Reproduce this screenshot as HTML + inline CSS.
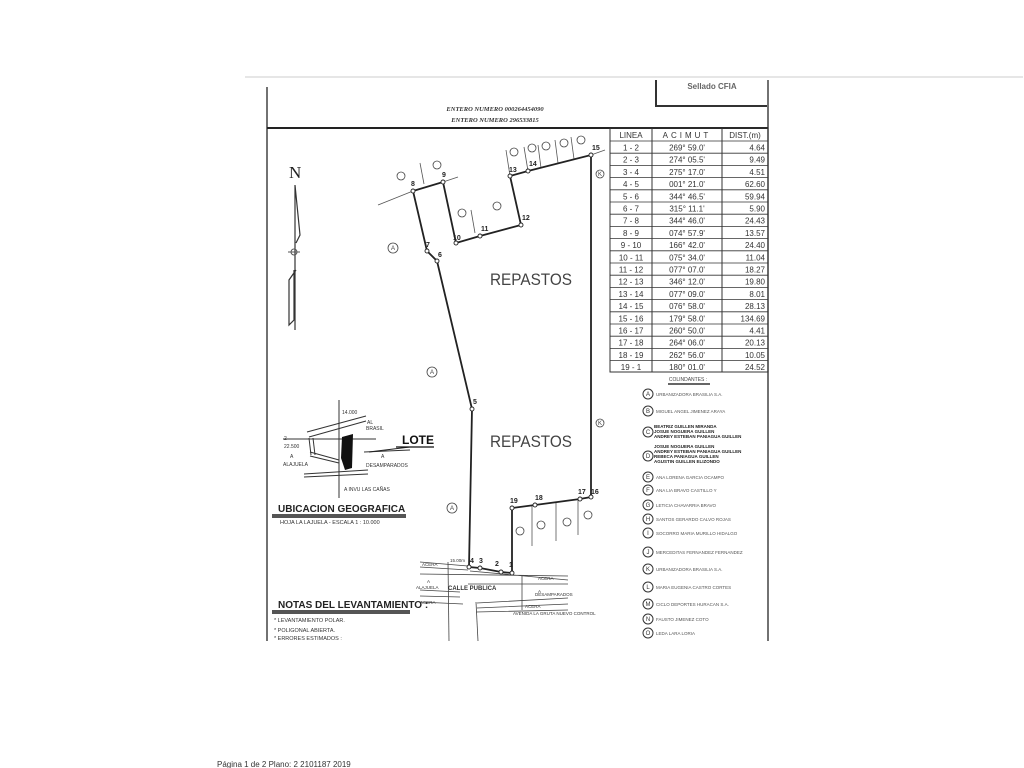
<!DOCTYPE html>
<html><head><meta charset="utf-8"><style>
html,body{margin:0;padding:0;background:#fff;width:1024px;height:768px;overflow:hidden}
svg{display:block;font-family:"Liberation Sans",sans-serif}
</style></head><body>
<svg width="1024" height="768" viewBox="0 0 1024 768" xmlns="http://www.w3.org/2000/svg">
<line x1="245" y1="77" x2="1023" y2="77" stroke="#ccc" stroke-width="1"/>
<line x1="267" y1="87" x2="267" y2="641" stroke="#444" stroke-width="1.5"/>
<line x1="768" y1="80" x2="768" y2="641" stroke="#444" stroke-width="1.5"/>
<line x1="267" y1="128" x2="768" y2="128" stroke="#222" stroke-width="2"/>
<path d="M656 80 V106 H767" fill="none" stroke="#333" stroke-width="2"/>
<text x="712" y="89" font-size="8" font-weight="bold" text-anchor="middle" fill="#666">Sellado CFIA</text>
<g font-family="Liberation Serif,serif" font-style="italic" font-weight="bold" font-size="6.5" fill="#333" text-anchor="middle">
<text x="495" y="111">ENTERO NUMERO 000264454090</text>
<text x="495" y="122">ENTERO NUMERO 296533815</text>
</g>
<g stroke="#333" stroke-width="1" fill="none">
<rect x="610" y="128" width="158" height="244"/>
<line x1="652" y1="128" x2="652" y2="372"/>
<line x1="722" y1="128" x2="722" y2="372"/>
</g>
<g stroke="#333" stroke-width="0.8">
<line x1="610" y1="141" x2="768" y2="141"/><line x1="610" y1="153.2" x2="768" y2="153.2"/><line x1="610" y1="165.4" x2="768" y2="165.4"/><line x1="610" y1="177.6" x2="768" y2="177.6"/><line x1="610" y1="189.8" x2="768" y2="189.8"/><line x1="610" y1="202" x2="768" y2="202"/><line x1="610" y1="214.2" x2="768" y2="214.2"/><line x1="610" y1="226.4" x2="768" y2="226.4"/><line x1="610" y1="238.6" x2="768" y2="238.6"/><line x1="610" y1="250.8" x2="768" y2="250.8"/><line x1="610" y1="263" x2="768" y2="263"/><line x1="610" y1="275.2" x2="768" y2="275.2"/><line x1="610" y1="287.4" x2="768" y2="287.4"/><line x1="610" y1="299.6" x2="768" y2="299.6"/><line x1="610" y1="311.8" x2="768" y2="311.8"/><line x1="610" y1="324" x2="768" y2="324"/><line x1="610" y1="336.2" x2="768" y2="336.2"/><line x1="610" y1="348.4" x2="768" y2="348.4"/><line x1="610" y1="360.6" x2="768" y2="360.6"/>
</g>
<g font-size="8" fill="#333">
<text x="631" y="138" text-anchor="middle">LINEA</text>
<text x="687" y="138" text-anchor="middle" letter-spacing="3">ACIMUT</text>
<text x="745" y="138" text-anchor="middle">DIST.(m)</text>
</g>
<g font-size="8" fill="#333">
<g text-anchor="middle">
<text x="631" y="150.5">1 - 2</text><text x="631" y="162.7">2 - 3</text><text x="631" y="174.9">3 - 4</text><text x="631" y="187.1">4 - 5</text><text x="631" y="199.3">5 - 6</text><text x="631" y="211.5">6 - 7</text><text x="631" y="223.7">7 - 8</text><text x="631" y="235.9">8 - 9</text><text x="631" y="248.1">9 - 10</text><text x="631" y="260.3">10 - 11</text><text x="631" y="272.5">11 - 12</text><text x="631" y="284.7">12 - 13</text><text x="631" y="296.9">13 - 14</text><text x="631" y="309.1">14 - 15</text><text x="631" y="321.3">15 - 16</text><text x="631" y="333.5">16 - 17</text><text x="631" y="345.7">17 - 18</text><text x="631" y="357.9">18 - 19</text><text x="631" y="370.1">19 - 1</text>
<text x="687" y="150.5">269° 59.0'</text><text x="687" y="162.7">274° 05.5'</text><text x="687" y="174.9">275° 17.0'</text><text x="687" y="187.1">001° 21.0'</text><text x="687" y="199.3">344° 46.5'</text><text x="687" y="211.5">315° 11.1'</text><text x="687" y="223.7">344° 46.0'</text><text x="687" y="235.9">074° 57.9'</text><text x="687" y="248.1">166° 42.0'</text><text x="687" y="260.3">075° 34.0'</text><text x="687" y="272.5">077° 07.0'</text><text x="687" y="284.7">346° 12.0'</text><text x="687" y="296.9">077° 09.0'</text><text x="687" y="309.1">076° 58.0'</text><text x="687" y="321.3">179° 58.0'</text><text x="687" y="333.5">260° 50.0'</text><text x="687" y="345.7">264° 06.0'</text><text x="687" y="357.9">262° 56.0'</text><text x="687" y="370.1">180° 01.0'</text>
</g>
<g text-anchor="end">
<text x="765" y="150.5">4.64</text><text x="765" y="162.7">9.49</text><text x="765" y="174.9">4.51</text><text x="765" y="187.1">62.60</text><text x="765" y="199.3">59.94</text><text x="765" y="211.5">5.90</text><text x="765" y="223.7">24.43</text><text x="765" y="235.9">13.57</text><text x="765" y="248.1">24.40</text><text x="765" y="260.3">11.04</text><text x="765" y="272.5">18.27</text><text x="765" y="284.7">19.80</text><text x="765" y="296.9">8.01</text><text x="765" y="309.1">28.13</text><text x="765" y="321.3">134.69</text><text x="765" y="333.5">4.41</text><text x="765" y="345.7">20.13</text><text x="765" y="357.9">10.05</text><text x="765" y="370.1">24.52</text>
</g>
</g>
<text x="688" y="381" font-size="5" text-anchor="middle" fill="#444">COLINDANTES :</text>
<line x1="668" y1="384" x2="710" y2="384" stroke="#333" stroke-width="1.5"/>
<g fill="none" stroke="#333" stroke-width="1">
<circle cx="648" cy="394" r="5"/><circle cx="648" cy="411" r="5"/><circle cx="648" cy="432" r="5"/><circle cx="648" cy="456" r="5"/><circle cx="648" cy="477" r="5"/><circle cx="648" cy="490" r="5"/><circle cx="648" cy="505" r="5"/><circle cx="648" cy="519" r="5"/><circle cx="648" cy="533" r="5"/><circle cx="648" cy="552" r="5"/><circle cx="648" cy="569" r="5"/><circle cx="648" cy="587" r="5"/><circle cx="648" cy="604" r="5"/><circle cx="648" cy="619" r="5"/><circle cx="648" cy="633" r="5"/>
</g>
<g font-size="6" text-anchor="middle" fill="#333">
<text x="648" y="396">A</text><text x="648" y="413">B</text><text x="648" y="434">C</text><text x="648" y="458">D</text><text x="648" y="479">E</text><text x="648" y="492">F</text><text x="648" y="507">G</text><text x="648" y="521">H</text><text x="648" y="535">I</text><text x="648" y="554">J</text><text x="648" y="571">K</text><text x="648" y="589">L</text><text x="648" y="606">M</text><text x="648" y="621">N</text><text x="648" y="635">O</text>
</g>
<g font-size="4.5" fill="#555">
<text x="656" y="396">URBANIZADORA BRASILIA S.A.</text>
<text x="656" y="413">MIGUEL ANGEL JIMENEZ ARAYA</text>
<g font-weight="bold" fill="#222"><text x="654" y="428">BEATRIZ GUILLEN MIRANDA</text><text x="654" y="433">JOSUE NOGUERA GUILLEN</text><text x="654" y="438">ANDREY ESTEBAN PANIAGUA GUILLEN</text>
<text x="654" y="448">JOSUE NOGUERA GUILLEN</text><text x="654" y="453">ANDREY ESTEBAN PANIAGUA GUILLEN</text><text x="654" y="458">REBECA PANIAGUA GUILLEN</text><text x="654" y="463">AGUSTIN GUILLEN ELIZONDO</text></g>
<text x="656" y="479">ANA LORENA GARCIA OCAMPO</text>
<text x="656" y="492">ANA LIA BRAVO CASTILLO Y</text>
<text x="656" y="507">LETICIA CHAVARRIA BRAVO</text>
<text x="656" y="521">SANTOS GERARDO CALVO ROJAS</text>
<text x="656" y="535">SOCORRO MARIA MURILLO HIDALGO</text>
<text x="656" y="554">MERCEDITAS FERNANDEZ FERNANDEZ</text>
<text x="656" y="571">URBANIZADORA BRASILIA S.A.</text>
<text x="656" y="589">MARIA EUGENIA CASTRO CORTES</text>
<text x="656" y="606">CICLO DEPORTES HURACAN S.A.</text>
<text x="656" y="621">FAUSTO JIMENEZ COTO</text>
<text x="656" y="635">LEDA LARA LORIA</text>
</g>
<g stroke="#555" stroke-width="0.8" fill="none">
<line x1="378" y1="205" x2="413" y2="191"/><line x1="443" y1="182" x2="458" y2="177"/>
<line x1="591" y1="155" x2="605" y2="150"/>
<line x1="424" y1="184" x2="420" y2="163"/><line x1="475" y1="233" x2="471" y2="210"/>
<line x1="510" y1="176" x2="506" y2="150"/><line x1="528" y1="171" x2="524" y2="147"/><line x1="541" y1="168" x2="538" y2="145"/><line x1="558" y1="163" x2="555" y2="140"/><line x1="574" y1="159" x2="571" y2="137"/>
<line x1="532" y1="506" x2="532" y2="546"/><line x1="556" y1="503" x2="556" y2="541"/><line x1="578" y1="500" x2="578" y2="535"/>
</g>
<polyline points="512,573 501,572 480,568 469,567 472,409 437,261 427,251 413,191 443,182 456,243 480,236 521,225 510,176 528,171 591,155 591,497 580,499 535,505 512,508 512,573" fill="none" stroke="#222" stroke-width="1.8"/>
<g fill="#fff" stroke="#222" stroke-width="0.9">
<circle cx="512" cy="573" r="2"/><circle cx="501" cy="572" r="2"/><circle cx="480" cy="568" r="2"/><circle cx="469" cy="567" r="2"/><circle cx="472" cy="409" r="2"/><circle cx="437" cy="261" r="2"/><circle cx="427" cy="251" r="2"/><circle cx="413" cy="191" r="2"/><circle cx="443" cy="182" r="2"/><circle cx="456" cy="243" r="2"/><circle cx="480" cy="236" r="2"/><circle cx="521" cy="225" r="2"/><circle cx="510" cy="176" r="2"/><circle cx="528" cy="171" r="2"/><circle cx="591" cy="155" r="2"/><circle cx="591" cy="497" r="2"/><circle cx="580" cy="499" r="2"/><circle cx="535" cy="505" r="2"/><circle cx="512" cy="508" r="2"/>
</g>
<g font-size="7" font-weight="bold" fill="#222">
<text x="509" y="567">1</text><text x="495" y="566">2</text><text x="479" y="563">3</text><text x="470" y="563">4</text><text x="473" y="404">5</text><text x="438" y="257">6</text><text x="426" y="247">7</text><text x="411" y="186">8</text><text x="442" y="177">9</text><text x="453" y="240">10</text><text x="481" y="231">11</text><text x="522" y="220">12</text><text x="509" y="172">13</text><text x="529" y="166">14</text><text x="592" y="150">15</text><text x="591" y="494">16</text><text x="578" y="494">17</text><text x="535" y="500">18</text><text x="510" y="503">19</text>
</g>
<g fill="none" stroke="#444" stroke-width="0.8">
<circle cx="401" cy="176" r="4"/><circle cx="437" cy="165" r="4"/><circle cx="393" cy="248" r="5"/><circle cx="462" cy="213" r="4"/><circle cx="497" cy="206" r="4"/>
<circle cx="514" cy="152" r="4"/><circle cx="532" cy="148" r="4"/><circle cx="546" cy="146" r="4"/><circle cx="564" cy="143" r="4"/><circle cx="581" cy="140" r="4"/>
<circle cx="600" cy="174" r="4"/><circle cx="432" cy="372" r="5"/><circle cx="600" cy="423" r="4"/><circle cx="452" cy="508" r="5"/>
<circle cx="520" cy="531" r="4"/><circle cx="541" cy="525" r="4"/><circle cx="567" cy="522" r="4"/><circle cx="588" cy="515" r="4"/>
</g>
<g font-size="6" fill="#444" text-anchor="middle">
<text x="393" y="250">A</text><text x="432" y="374">A</text><text x="452" y="510">A</text><text x="600" y="176">K</text><text x="600" y="425">K</text>
</g>
<g font-size="17" fill="#444">
<text x="490" y="285" textLength="82" lengthAdjust="spacingAndGlyphs">REPASTOS</text><text x="490" y="447" textLength="82" lengthAdjust="spacingAndGlyphs">REPASTOS</text>
</g>
<text x="289" y="178" font-family="Liberation Serif,serif" font-size="17" fill="#222">N</text>
<path d="M295 185 V330 M295 185 L300 235 L296 243 M296 270 L289 280 L289 325 L294 320 V270" fill="none" stroke="#333" stroke-width="1.2"/>
<circle cx="294" cy="252" r="3" fill="none" stroke="#555"/><line x1="288" y1="252" x2="300" y2="252" stroke="#555"/>
<g stroke="#333" stroke-width="1" fill="none">
<line x1="339" y1="400" x2="339" y2="498"/>
<line x1="283" y1="439" x2="376" y2="439"/>
<path d="M307 432 L366 416 M309 437 L366 421"/>
<path d="M310 452 L339 460 M310 456 L339 463"/>
<path d="M304 474 L368 470 M304 477 L368 474"/>
<line x1="309" y1="438" x2="311" y2="455"/><line x1="313" y1="438" x2="315" y2="455"/>
<path d="M364 452 L410 450"/>
</g>
<path d="M342 437 L353 434 L352 468 L345 470 L341 458 Z" fill="#111"/>
<line x1="369" y1="452" x2="410" y2="447" stroke="#222" stroke-width="1"/>
<g font-size="5" fill="#333">
<text x="342" y="414">14.000</text><text x="367" y="424">AL</text><text x="366" y="430">BRASIL</text>
<text x="284" y="440">2</text><text x="284" y="448">22.500</text><text x="290" y="458">A</text><text x="283" y="466">ALAJUELA</text>
<text x="381" y="458">A</text><text x="366" y="467">DESAMPARADOS</text><text x="344" y="491">A INVU LAS CAÑAS</text>
</g>
<text x="402" y="444" font-size="12" font-weight="bold" fill="#111">LOTE</text>
<line x1="396" y1="447" x2="434" y2="447" stroke="#111" stroke-width="1.2"/>
<text x="278" y="512" font-size="10" font-weight="bold" fill="#222">UBICACION GEOGRAFICA</text>
<rect x="272" y="514" width="134" height="4" fill="#555"/>
<text x="280" y="524" font-size="5.5" fill="#333">HOJA LA LAJUELA - ESCALA 1 : 10.000</text>
<text x="278" y="608" font-size="10" font-weight="bold" fill="#222">NOTAS DEL LEVANTAMIENTO :</text>
<rect x="272" y="610" width="138" height="4" fill="#555"/>
<g font-size="5.5" fill="#333"><text x="274" y="622">* LEVANTAMIENTO POLAR.</text><text x="274" y="632">* POLIGONAL ABIERTA.</text><text x="274" y="640">* ERRORES ESTIMADOS :</text></g>
<g stroke="#444" stroke-width="0.8" fill="none">
<path d="M420 562 L468 566 M420 567 L468 570 M420 574 L568 576 M470 571 L568 580 M468 584 L568 584"/>
<path d="M420 590 L460 592 M420 596 L460 597 M420 602 L463 604"/>
<path d="M477 603 L568 598 M477 608 L568 604 M476 612 L568 610"/>
<line x1="448" y1="562" x2="449" y2="641"/><line x1="476" y1="602" x2="478" y2="641"/>
<line x1="522" y1="575" x2="522" y2="610"/>
</g>
<g font-size="4.5" fill="#333">
<text x="422" y="566">ACERA</text><text x="427" y="583">A</text><text x="416" y="589">ALAJUELA</text><text x="448" y="590" font-weight="bold" font-size="6">CALLE PUBLICA</text>
<text x="420" y="604">ACERA</text><text x="538" y="580">ACERA</text><text x="538" y="593">A</text><text x="535" y="596">DESAMPARADOS</text><text x="525" y="608">ACERA</text><text x="450" y="562">15.00m</text>
<text x="513" y="615">AVENIDA LA GRUTA NUEVO CONTROL</text>
</g>
<text x="217" y="767" font-size="8" fill="#333">Página 1 de 2  Plano: 2 2101187 2019</text>
</svg>
</body></html>
